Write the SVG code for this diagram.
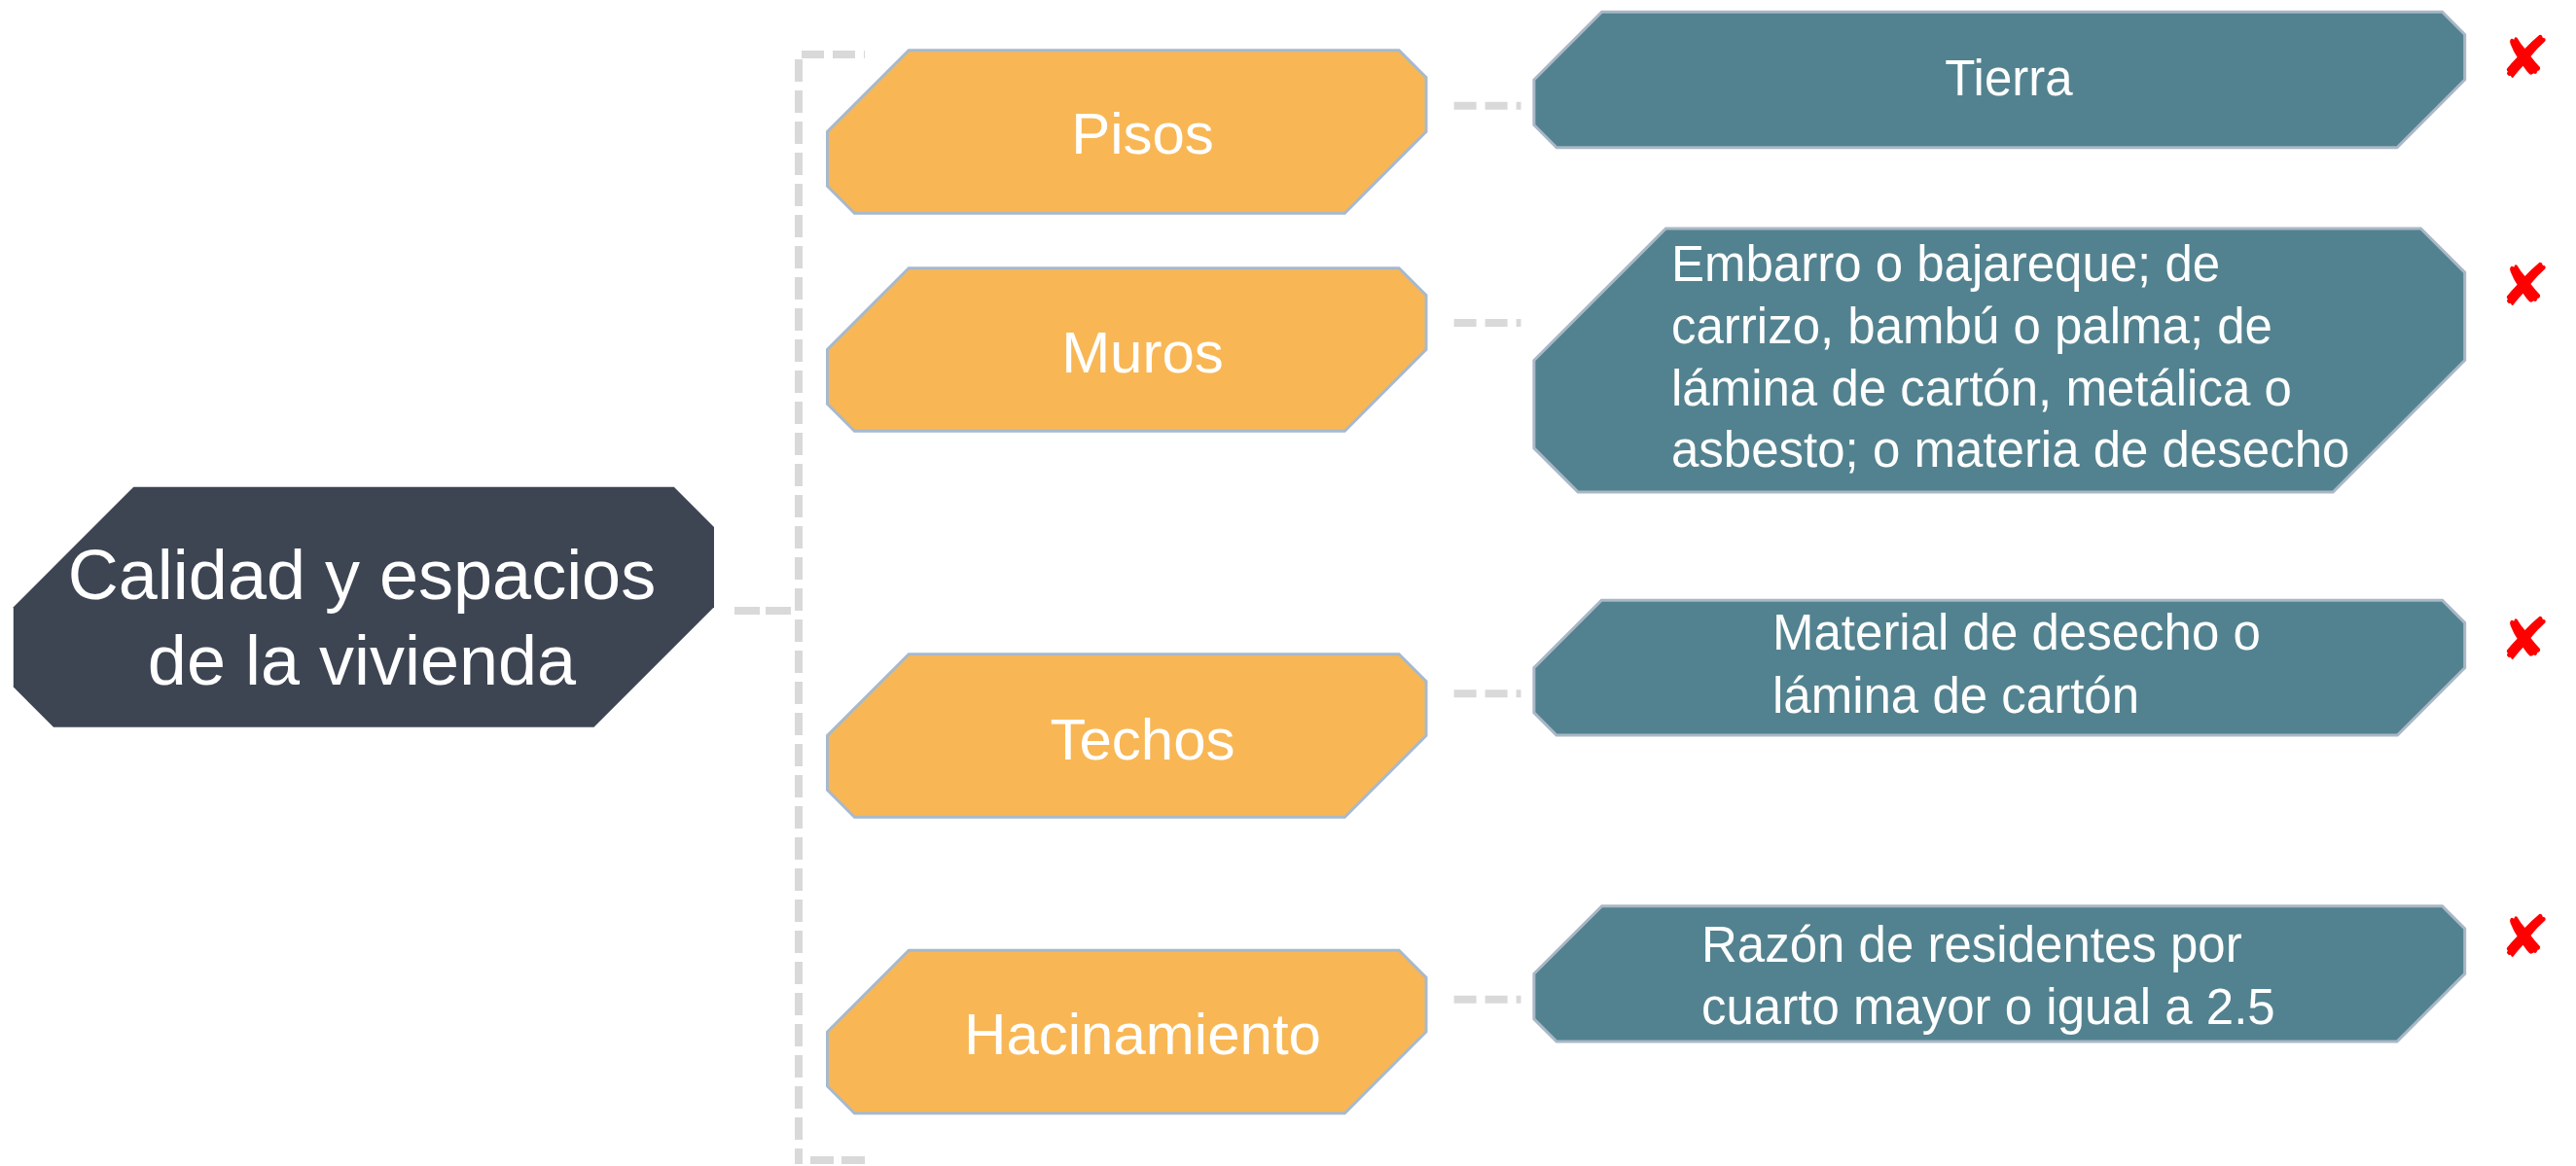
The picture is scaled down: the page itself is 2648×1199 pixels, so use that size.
<svg xmlns="http://www.w3.org/2000/svg" xmlns:xlink="http://www.w3.org/1999/xlink" width="2648" height="1199" viewBox="0 0 2648 1199">
  <style>
    .conn { stroke: #D9D9D9; stroke-width: 8; fill: none; stroke-dasharray: 23 9; }
    .orange { fill: #F8B754; stroke: #A7B9CC; stroke-width: 3; }
    .teal { fill: #52828F; stroke: #A9B7C6; stroke-width: 3; }
    .dark { fill: #3D4553; }
    .t { font-family: "Liberation Sans", Arial, sans-serif; fill: #FFFFFF; }
    .tc { font-size: 72px; text-anchor: middle; }
    .to { font-size: 60px; text-anchor: middle; }
    .tt { font-size: 51px; }
    .mark { font-family: "DejaVu Sans", sans-serif; font-size: 60px; fill: #FF0000; }
  </style>
  <defs>
    <polygon id="orangeShape" points="83.7,0 587.6,0 615.5,27.9 615.5,83.7 531.8,167.5 27.9,167.5 0,139.6 0,83.7"/>
  </defs>
  <rect width="2648" height="1199" fill="#FFFFFF"/>

  <g id="connectors">
    <line class="conn" x1="755" y1="628" x2="817" y2="628" style="stroke-dasharray:26 6"/>
    <line class="conn" x1="824" y1="56" x2="889" y2="56"/>
    <line class="conn" x1="821" y1="61" x2="821" y2="1197"/>
    <line class="conn" x1="833" y1="1193" x2="889" y2="1193" style="stroke-dasharray:24 8"/>
    <line class="conn" x1="1494.6" y1="108.7" x2="1563.5" y2="108.7"/>
    <line class="conn" x1="1494.6" y1="332" x2="1563.5" y2="332"/>
    <line class="conn" x1="1494.6" y1="713.3" x2="1563.5" y2="713.3"/>
    <line class="conn" x1="1494.6" y1="1027.7" x2="1563.5" y2="1027.7"/>
  </g>

  <g id="node-center">
    <polygon class="dark" points="137.3,500.7 692.8,500.7 734,541.9 734,624.2 610.5,747.7 55,747.7 13.8,706.5 13.8,624.2"/>
    <text class="t tc" x="372" y="616">Calidad y espacios</text>
    <text class="t tc" x="372" y="704">de la vivienda</text>
  </g>

  <g id="node-pisos">
    <use xlink:href="#orangeShape" class="orange" x="850.5" y="51.7"/>
    <text class="t to" x="1174.5" y="158.3">Pisos</text>
  </g>
  <g id="node-muros">
    <use xlink:href="#orangeShape" class="orange" x="850.5" y="275.7"/>
    <text class="t to" x="1174.5" y="383.3">Muros</text>
  </g>
  <g id="node-techos">
    <use xlink:href="#orangeShape" class="orange" x="850.5" y="672.7"/>
    <text class="t to" x="1174.5" y="780.7">Techos</text>
  </g>
  <g id="node-hacinamiento">
    <use xlink:href="#orangeShape" class="orange" x="850.5" y="977.3"/>
    <text class="t to" x="1174.5" y="1084.3">Hacinamiento</text>
  </g>

  <g id="node-tierra">
    <polygon class="teal" points="1646.6,12.3 2510.5,12.3 2533.7,35.5 2533.7,82 2464,151.7 1600.1,151.7 1576.9,128.5 1576.9,82"/>
    <text class="t tt" x="2065" y="97.7" text-anchor="middle">Tierra</text>
  </g>
  <g id="node-muros-detalle">
    <polygon class="teal" points="1712.4,235 2488.5,235 2533.7,280.2 2533.7,370.5 2398.2,506 1622.1,506 1576.9,460.8 1576.9,370.5"/>
    <text class="t tt" x="1718" y="289.3">Embarro o bajareque; de</text>
    <text class="t tt" x="1718" y="353.3">carrizo, bambú o palma; de</text>
    <text class="t tt" x="1718" y="416.7">lámina de cartón, metálica o</text>
    <text class="t tt" x="1718" y="480">asbesto; o materia de desecho</text>
  </g>
  <g id="node-techos-detalle">
    <polygon class="teal" points="1646.3,617.3 2510.6,617.3 2533.7,640.4 2533.7,686.7 2464.4,756 1600,756 1576.9,732.9 1576.9,686.7"/>
    <text class="t tt" x="1822" y="668.3">Material de desecho o</text>
    <text class="t tt" x="1822" y="732.7">lámina de cartón</text>
  </g>
  <g id="node-hacinamiento-detalle">
    <polygon class="teal" points="1646.6,931.7 2510.5,931.7 2533.7,954.9 2533.7,1001.3 2464,1071 1600.1,1071 1576.9,1047.8 1576.9,1001.3"/>
    <text class="t tt" x="1749" y="989.3">Razón de residentes por</text>
    <text class="t tt" x="1749" y="1053.3">cuarto mayor o igual a 2.5</text>
  </g>

  <g id="marks">
    <text class="mark" x="2569" y="80" textLength="53" lengthAdjust="spacingAndGlyphs">✘</text>
    <text class="mark" x="2569" y="314" textLength="53" lengthAdjust="spacingAndGlyphs">✘</text>
    <text class="mark" x="2569" y="678" textLength="53" lengthAdjust="spacingAndGlyphs">✘</text>
    <text class="mark" x="2569" y="984" textLength="53" lengthAdjust="spacingAndGlyphs">✘</text>
  </g>
</svg>
